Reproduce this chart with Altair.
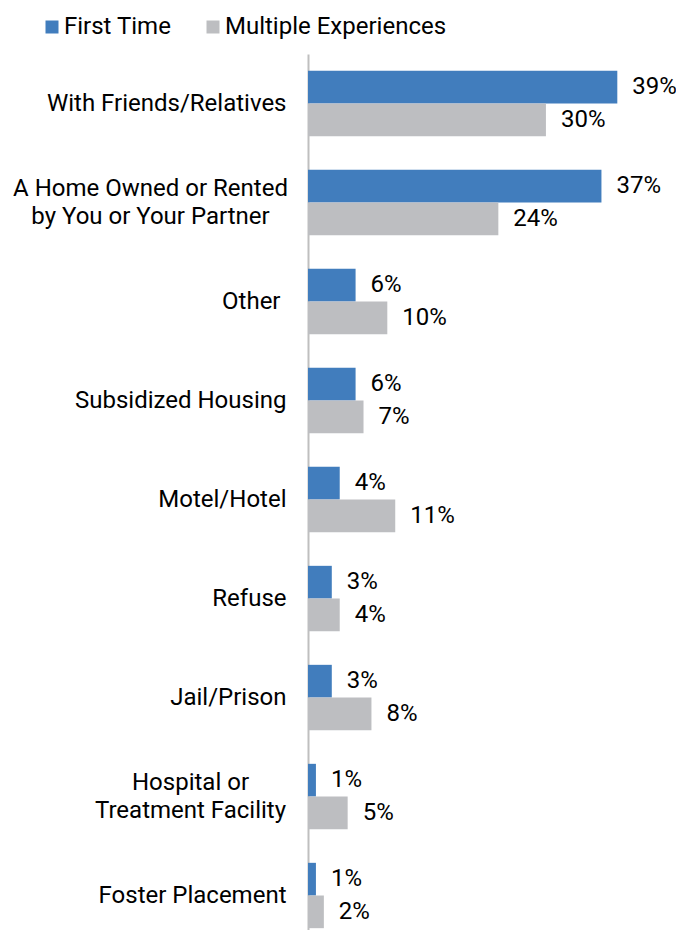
import altair as alt
import pandas as pd

categories = [
    "With Friends/Relatives",
    "A Home Owned or Rented|by You or Your Partner",
    "Other",
    "Subsidized Housing",
    "Motel/Hotel",
    "Refuse",
    "Jail/Prison",
    "Hospital or|Treatment Facility",
    "Foster Placement",
]
series = ["First Time", "Multiple Experiences"]
first_time = [39, 37, 6, 6, 4, 3, 3, 1, 1]
multiple = [30, 24, 10, 7, 11, 4, 8, 5, 2]
colors = ["#417DBD", "#BDBEC1"]

rows = []
for c, a, b in zip(categories, first_time, multiple):
    rows.append({"category": c, "series": series[0], "value": a})
    rows.append({"category": c, "series": series[1], "value": b})
df = pd.DataFrame(rows)

FONT = "Roboto"
FS = 24

MULTI = "indexof(datum.value, '|') >= 0"
# centred two-line labels, as in the reference
label_align = {"condition": {"test": MULTI, "value": "center"}, "value": "right"}
label_offset = {"condition": {"test": MULTI, "value": -14}, "value": 0}
label_pad = {
    "condition": [
        {"test": "datum.value == '%s'" % categories[1], "value": 158},
        {"test": "datum.value == '%s'" % categories[7], "value": 118},
        {"test": "datum.value == '%s'" % categories[2], "value": 28},
    ],
    "value": 22,
}

y_enc = alt.Y(
    "category:N",
    sort=categories,
    scale=alt.Scale(range=[0, 891], paddingInner=0.34, paddingOuter=0.17),
    axis=alt.Axis(
        title=None,
        labelExpr="split(datum.label, '|')",
        labelFont=FONT,
        labelFontSize=FS,
        labelFontWeight="normal",
        labelColor="#000000",
        labelAlign=label_align,
        labelPadding=label_pad,
        labelOffset=label_offset,
        labelLineHeight=28,
        ticks=False,
        domainColor="#BFBFBF",
        domainWidth=2,
        labelLimit=400,
    ),
)
yoff = alt.YOffset("series:N", sort=series, scale=alt.Scale(paddingInner=0, paddingOuter=0))
x_enc = alt.X("value:Q", scale=alt.Scale(domain=[0, 46.4], nice=False), axis=None)

base = alt.Chart(df).encode(y=y_enc, yOffset=yoff, x=x_enc)

bars = base.mark_bar().encode(
    color=alt.Color(
        "series:N",
        scale=alt.Scale(domain=series, range=colors),
        legend=alt.Legend(
            title=None,
            orient="none",
            legendX=-268,
            legendY=-39,
            direction="horizontal",
            symbolType="square",
            symbolSize=169,
            symbolStrokeWidth=0,
            symbolOpacity=1,
            labelFont=FONT,
            labelFontSize=FS,
            labelColor="#000000",
            labelOffset=0,
            labelLimit=400,
            columnPadding=29,
        ),
    )
)

labels = base.mark_text(
    align="left", baseline="middle", dx=15, font=FONT, fontSize=FS, color="#000000"
).encode(text=alt.Text("label:N")).transform_calculate(label="datum.value + '%'")

chart = (
    alt.layer(bars, labels)
    .properties(
        width=368,
        height=876,
        autosize=alt.AutoSizeParams(type="none"),
        padding={"left": 300, "top": 46, "right": 0, "bottom": 0},
    )
    .configure_view(stroke=None)
)

chart.save("out.html", embed_options={"renderer": "svg", "actions": False})
